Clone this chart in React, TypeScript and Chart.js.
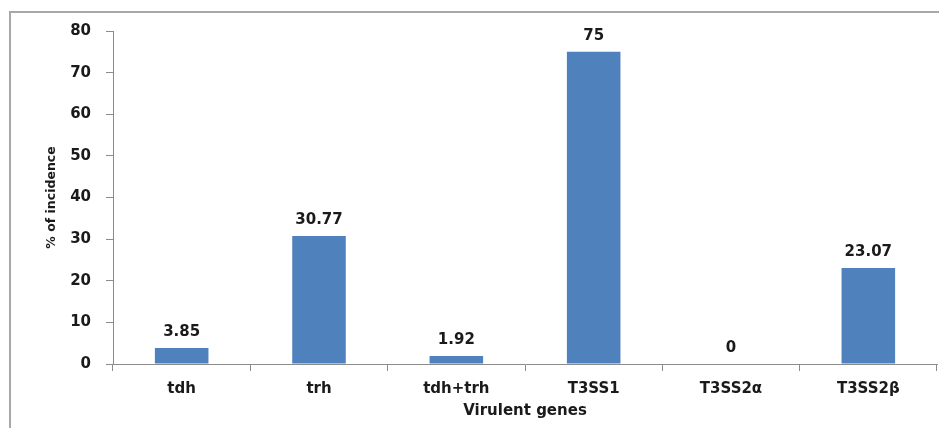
import React, { useEffect, useRef } from "react";
import { Chart, registerables } from "chart.js";

Chart.register(...registerables);

const categories = ["tdh", "trh", "tdh+trh", "T3SS1", "T3SS2α", "T3SS2β"];
const incidence = [3.85, 30.77, 1.92, 75, 0, 23.07];
const yTicks = [0, 10, 20, 30, 40, 50, 60, 70, 80];

const FONT = "'DejaVu Sans', sans-serif";

const valueLabels = {
  id: "valueLabels",
  afterDatasetsDraw(chart: any) {
    const ctx = chart.ctx;
    const meta = chart.getDatasetMeta(0);
    ctx.save();
    ctx.font = `bold 15px ${FONT}`;
    ctx.fillStyle = "#1a1a1a";
    ctx.textAlign = "center";
    ctx.textBaseline = "bottom";
    meta.data.forEach((bar: any, i: number) => {
      const v = chart.data.datasets[0].data[i];
      ctx.fillText(String(v), bar.x, bar.y - 8);
    });
    ctx.restore();
  },
};

export default function App() {
  const ref = useRef<HTMLCanvasElement | null>(null);

  useEffect(() => {
    if (!ref.current) return;
    const chart = new Chart(ref.current, {
      type: "bar",
      data: {
        labels: categories,
        datasets: [
          {
            data: incidence,
            backgroundColor: "#4F81BD",
            borderWidth: 0,
            categoryPercentage: 1,
            barPercentage: 0.39,
          },
        ],
      },
      options: {
        animation: false,
        responsive: false,
        maintainAspectRatio: false,
        devicePixelRatio: 1,
        layout: { padding: { left: 0, right: 10, top: 31, bottom: 0 } },
        plugins: {
          legend: { display: false },
          tooltip: { enabled: false },
        },
        scales: {
          x: {
            afterFit: (s: any) => {
              s.height = 72;
            },
            grid: {
              offset: true,
              drawOnChartArea: false,
              drawTicks: true,
              tickLength: 7,
              color: "#8c8c8c",
            },
            border: { display: true, color: "#8c8c8c", width: 1 },
            ticks: {
              padding: 9,
              color: "#1a1a1a",
              font: { family: FONT, size: 15, weight: "bold" },
            },
            title: {
              display: true,
              text: "Virulent genes",
              color: "#1a1a1a",
              font: { family: FONT, size: 15, weight: "bold" },
              padding: { top: 0, bottom: 16 },
            },
          },
          y: {
            min: 0,
            max: 80,
            afterFit: (s: any) => {
              s.width = 113;
            },
            afterBuildTicks: (s: any) => {
              s.ticks = yTicks.map((v) => ({ value: v }));
            },
            grid: {
              drawOnChartArea: false,
              drawTicks: true,
              tickLength: 7,
              color: "#8c8c8c",
            },
            border: { display: true, color: "#8c8c8c", width: 1 },
            ticks: {
              padding: 15,
              color: "#1a1a1a",
              font: { family: FONT, size: 15, weight: "bold" },
            },
            title: {
              display: true,
              text: "% of incidence",
              color: "#1a1a1a",
              font: { family: FONT, size: 12.5, weight: "bold" },
              padding: { top: 44, bottom: 0 },
            },
          },
        },
      },
      plugins: [valueLabels],
    });
    return () => chart.destroy();
  }, []);

  return (
    <div
      style={{
        position: "relative",
        width: 947,
        height: 436,
        margin: -8,
        overflow: "hidden",
        background: "#fff",
      }}
    >
      <div
        style={{
          position: "absolute",
          left: 9,
          top: 11,
          width: 1000,
          height: 1000,
          borderLeft: "2px solid #a8a8a8",
          borderTop: "2px solid #a8a8a8",
        }}
      />
      <canvas
        ref={ref}
        width={947}
        height={436}
        style={{ position: "absolute", left: 0, top: 0, width: 947, height: 436 }}
      />
    </div>
  );
}
